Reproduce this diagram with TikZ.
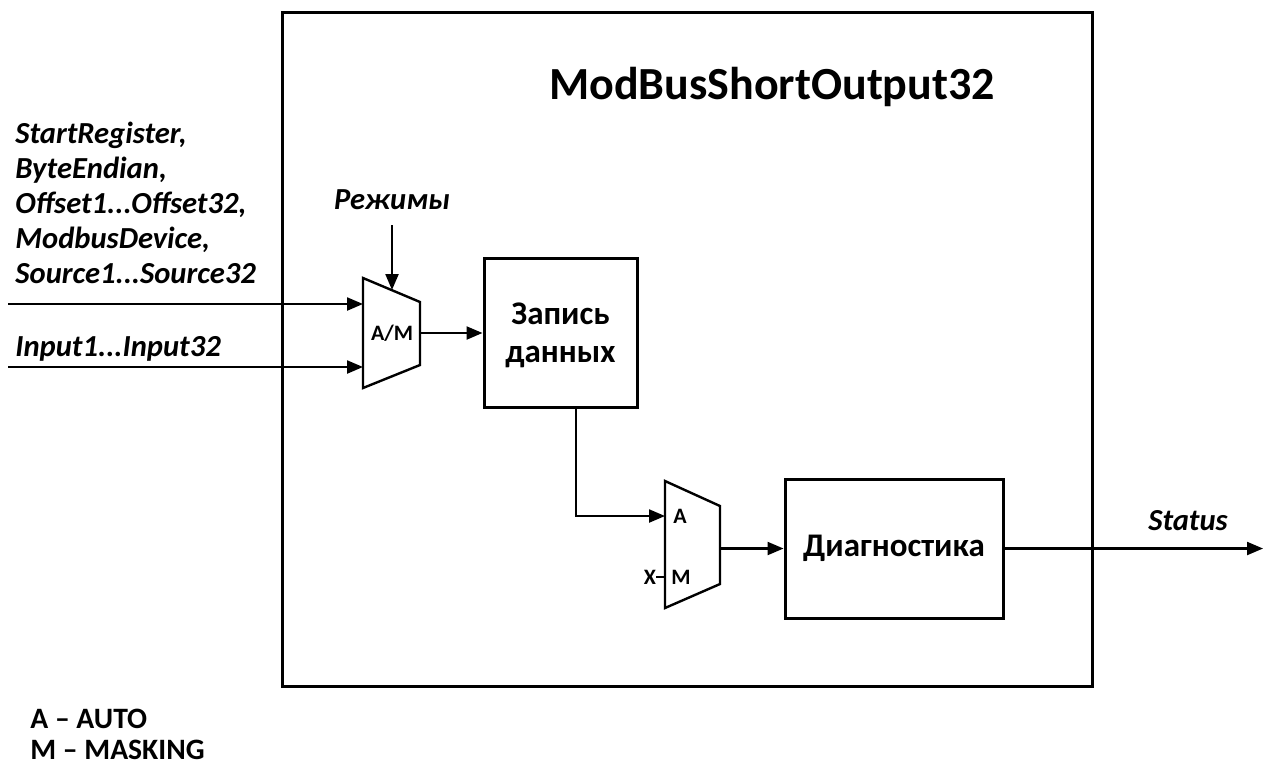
\documentclass[tikz,border=0pt]{standalone}
\usepackage{fontspec}
\setmainfont{Carlito}
\usetikzlibrary{arrows.meta,positioning}

\newcommand{\tridot}{...}
\tikzset{
	blok/.style={draw, line width=1.5pt, align=center, inner sep=0pt},
	mux/.style={draw, line width=1.2pt, line join=miter},
	sig/.style={line width=1.1pt},
	lbl/.style={font=\fontsize{15.3}{17}\selectfont\bfseries\itshape, inner sep=0pt},
	portlbl/.style={font=\fontsize{11}{12}\selectfont\bfseries, inner sep=0pt},
	legend/.style={font=\fontsize{14.8}{17}\selectfont\bfseries, anchor=base west, inner sep=0pt}
}

\begin{document}
\begin{tikzpicture}[x=0.5pt, y=-0.5pt, >={Triangle[length=8pt,width=6.5pt]}]
		\useasboundingbox (0,0) rectangle (1272,767);
		% outer block
		\draw[line width=1.5pt] (282,12) rectangle (1092,686);
		\node[font=\fontsize{23}{26}\selectfont\bfseries] (title) at (772,87) {ModBusShortOutput32};

		% inputs on the left
		\foreach \i/\t in {1/{StartRegister,}, 2/{ByteEndian,}, 3/{Offset1\tridot Offset32,}, 4/{ModbusDevice,}, 5/{Source1\tridot Source32}}
			\node[lbl, anchor=base west] (in\i) at (15,{108+35*\i}) {\t};
		\node[lbl, anchor=base west] (in6) at (15,356) {Input1\tridot Input32};
		\coordinate (src1) at (8,304);
		\coordinate (src2) at (8,367);

		% first switch A/M
		\draw[mux] (363,278) -- (420,302) -- (420,365) -- (363,388) -- cycle;
		\node[portlbl] (am) at (392,333) {A/M};
		\coordinate (m1a) at (363,304);
		\coordinate (m1b) at (363,367);
		\coordinate (m1top) at (392,290);
		\coordinate (m1out) at (420,333);
		\node[lbl] (rezh) at (392,200) {Режимы};
		\coordinate (rezhsrc) at (392,225);

		\draw[sig, ->] (src1) -- (m1a);
		\draw[sig, ->] (src2) -- (m1b);
		\draw[sig, ->] (rezhsrc) -- (m1top);

		% data write block
		\node[blok, minimum width=76.5pt, minimum height=74.5pt] (zapis) at (560.5,332.5) {};
		\node[font=\fontsize{16.5}{19}\selectfont\bfseries, align=center] (zapistxt) at (560.5,335) {Запись\\данных};
		\draw[sig, ->] (m1out) -- (zapis.west |- m1out);

		% second switch A / M
		\draw[mux] (665,481) -- (720,506) -- (720,584) -- (665,608) -- cycle;
		\node[portlbl] (ma) at (680,516) {A};
		\node[portlbl] (mm) at (681,577) {M};
		\node[portlbl] (mx) at (650,577) {X};
		\coordinate (m2a) at (665,516);
		\coordinate (m2m) at (665,577);
		\coordinate (m2out) at (720,548.5);
		\draw[sig] (mx.east) -- (m2m);
		\draw[sig, ->] ([xshift=7.75pt]zapis.south) |- (m2a);

		% diagnostics and output
		\node[blok, minimum width=109pt, minimum height=69.5pt, font=\fontsize{16.5}{19}\selectfont\bfseries] (diag) at (894,548.5) {Диагностика};
		\draw[sig, ->] (m2out) -- (diag.west);
		\coordinate (outend) at (1263,548.5);
		\draw[sig, ->] (diag.east) -- (outend);
		\node[lbl, anchor=base] (status) at (1188,530) {Status};

		% legend
		\node[legend] (legA) at (30,728) {A – AUTO};
		\node[legend] (legM) at (30,759) {M – MASKING};
\end{tikzpicture}
\end{document}
